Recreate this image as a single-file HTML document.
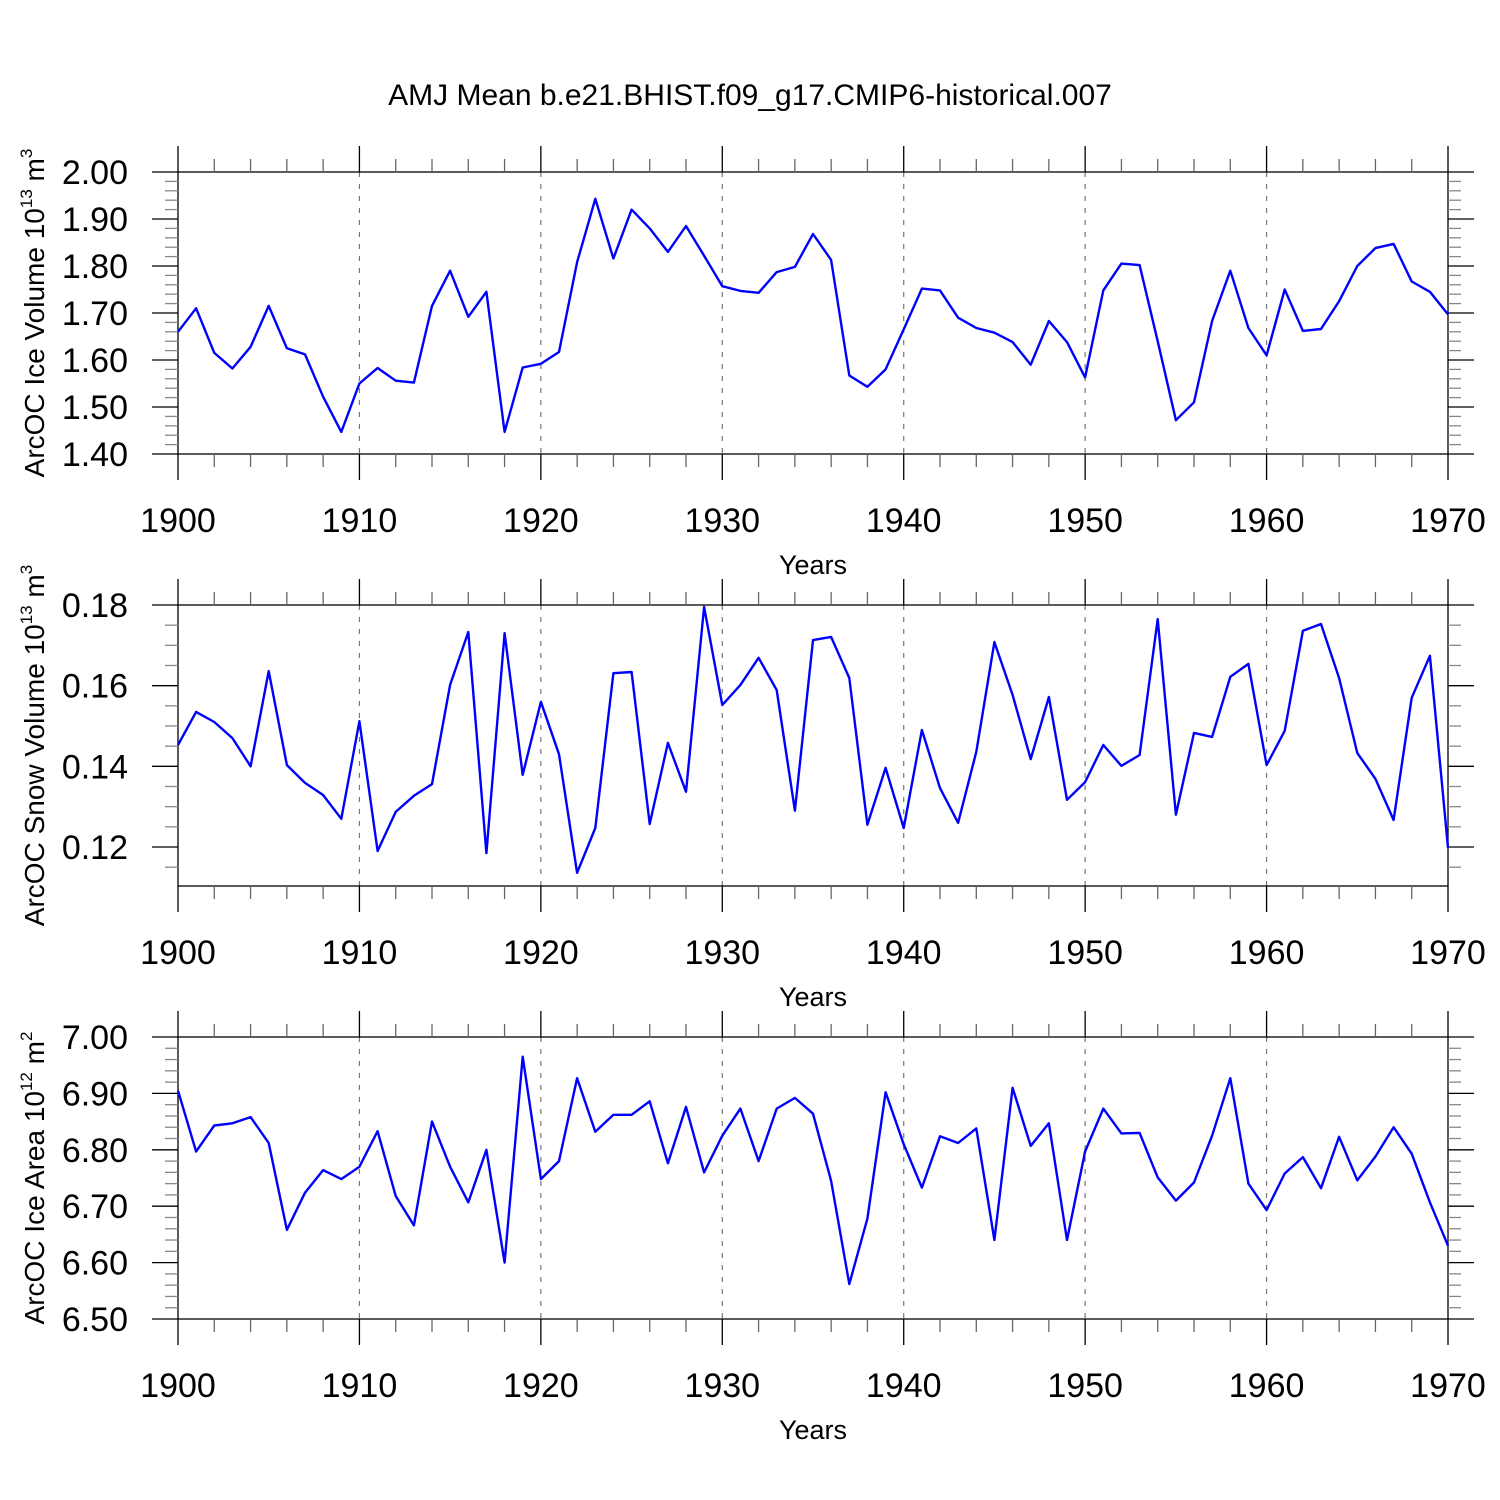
<!DOCTYPE html>
<html><head><meta charset="utf-8"><style>
body{margin:0;background:#fff}
svg{display:block;font-family:"Liberation Sans",sans-serif}
</style></head><body>
<svg id="c" width="1500" height="1500">
<text x="750" y="105" font-size="30" text-anchor="middle">AMJ Mean b.e21.BHIST.f09_g17.CMIP6-historical.007</text>
</svg>
<script>
const years=[];for(let y=1900;y<=1970;y++)years.push(y);
const iceVolume=[1.66,1.71,1.615,1.582,1.628,1.715,1.625,1.612,1.522,1.447,1.55,1.583,1.556,1.552,1.715,1.79,1.692,1.745,1.447,1.584,1.592,1.617,1.808,1.943,1.816,1.92,1.88,1.83,1.885,1.822,1.757,1.747,1.743,1.787,1.798,1.868,1.813,1.567,1.543,1.58,1.665,1.752,1.748,1.69,1.668,1.658,1.638,1.59,1.683,1.638,1.563,1.748,1.805,1.802,1.64,1.472,1.51,1.683,1.79,1.668,1.61,1.75,1.662,1.666,1.725,1.8,1.838,1.847,1.767,1.745,1.697];
const snowVolume=[0.1453,0.1535,0.151,0.147,0.140,0.1636,0.1403,0.1359,0.1329,0.127,0.1512,0.119,0.1287,0.1327,0.1356,0.1602,0.1733,0.1185,0.173,0.1379,0.156,0.143,0.1136,0.1247,0.1631,0.1634,0.1257,0.1458,0.1337,0.1795,0.1552,0.1602,0.1669,0.1589,0.129,0.1713,0.1721,0.1619,0.1255,0.1396,0.1247,0.149,0.1346,0.126,0.1436,0.1708,0.1577,0.1418,0.1572,0.1317,0.1361,0.1453,0.1401,0.1428,0.1765,0.128,0.1483,0.1473,0.1622,0.1654,0.1403,0.1488,0.1736,0.1753,0.1619,0.1433,0.1369,0.1267,0.157,0.1674,0.1198];
const iceArea=[6.905,6.797,6.843,6.847,6.858,6.812,6.658,6.724,6.764,6.748,6.77,6.833,6.718,6.666,6.85,6.77,6.707,6.8,6.6,6.965,6.748,6.78,6.927,6.832,6.862,6.862,6.886,6.776,6.876,6.76,6.825,6.873,6.78,6.873,6.892,6.864,6.745,6.562,6.678,6.902,6.81,6.733,6.824,6.812,6.838,6.64,6.91,6.807,6.847,6.64,6.797,6.873,6.829,6.83,6.751,6.71,6.742,6.825,6.927,6.74,6.693,6.758,6.787,6.732,6.823,6.746,6.788,6.84,6.793,6.707,6.63];
const xTickLabels=["1900","1910","1920","1930","1940","1950","1960","1970"];
const iceVolTicks=["1.40","1.50","1.60","1.70","1.80","1.90","2.00"];
const snowTicks=["0.12","0.14","0.16","0.18"];
const areaTicks=["6.50","6.60","6.70","6.80","6.90","7.00"];

const svg=document.getElementById('c');const NS='http://www.w3.org/2000/svg';
function el(t,a,p){const e=document.createElementNS(NS,t);for(const k in a)e.setAttribute(k,a[k]);(p||svg).appendChild(e);return e;}
const X0=178,X1=1448;
const xs=v=>X0+(v-1900)*(X1-X0)/70;

function panel(name,top,bot,ymin,ymax,major,minor,ticks,data,titleParts){
  const g=el('g',{});
  
  
  const ys=v=>bot-(v-ymin)*(bot-top)/(ymax-ymin);
  for(let y=1910;y<=1960;y+=10){
    const l=el('line',{x1:xs(y),x2:xs(y),y1:top,y2:bot,stroke:'#777','stroke-width':1.2,'stroke-dasharray':'5,7'},g);
    
    
  }
  const b=el('rect',{x:X0,y:top,width:X1-X0,height:bot-top,fill:'none',stroke:'#000','stroke-width':1.3},g);
  
  
  for(let y=1900;y<=1970;y+=2){
    const maj=(y%10===0), L=maj?26:13, c=maj?'#000':'#666';
    el('line',{x1:xs(y),x2:xs(y),y1:top,y2:top-L,stroke:c,'stroke-width':1.3},g);
    el('line',{x1:xs(y),x2:xs(y),y1:bot,y2:bot+L,stroke:c,'stroke-width':1.3},g);
  }
  xTickLabels.forEach(s=>{
    const t=el('text',{x:xs(+s),y:bot+78,'font-size':34,'text-anchor':'middle'},g);t.textContent=s;
    
    
  });
  const xt=el('text',{x:813,y:bot+120,'font-size':27,'text-anchor':'middle'},g);xt.textContent='Years';
  
  
  const start=Math.ceil(ymin/minor-1e-6)*minor;
  for(let v=start;v<=ymax+1e-9;v+=minor){
    const r=v/major, maj=Math.abs(r-Math.round(r))<1e-6, L=maj?26:13, c=maj?'#000':'#888';
    el('line',{x1:X0,x2:X0-L,y1:ys(v),y2:ys(v),stroke:c,'stroke-width':1.3},g);
    el('line',{x1:X1,x2:X1+L,y1:ys(v),y2:ys(v),stroke:c,'stroke-width':1.3},g);
  }
  ticks.forEach(s=>{
    const t=el('text',{x:128,y:ys(+s)+12,'font-size':34,'text-anchor':'end'},g);t.textContent=s;
    
    
  });
  const cy=(top+bot)/2;
  const yt=el('text',{x:0,y:0,'font-size':28,'text-anchor':'middle',transform:`translate(44,${cy}) rotate(-90)`},g);
  
  
  yt.innerHTML=titleParts;
  const pts=data.map((v,i)=>xs(years[i]).toFixed(1)+','+ys(v).toFixed(1)).join(' ');
  const pl=el('polyline',{points:pts,fill:'none',stroke:'#0000ff','stroke-width':2.4,'stroke-linejoin':'round'},g);
  
  
}
const sup=(a,b)=>'10<tspan dy="-12" font-size="17">'+a+'</tspan><tspan dy="12"> m</tspan><tspan dy="-12" font-size="17">'+b+'</tspan>';
panel('ice-volume',172,454,1.40,2.00,0.1,0.02,iceVolTicks,iceVolume,'ArcOC Ice Volume '+sup(13,3));
panel('snow-volume',605,886,0.18-281*0.06/242,0.18,0.02,0.005,snowTicks,snowVolume,'ArcOC Snow Volume '+sup(13,3));
panel('ice-area',1037,1319,6.50,7.00,0.1,0.02,areaTicks,iceArea,'ArcOC Ice Area '+sup(12,2));
</script>
</body></html>
